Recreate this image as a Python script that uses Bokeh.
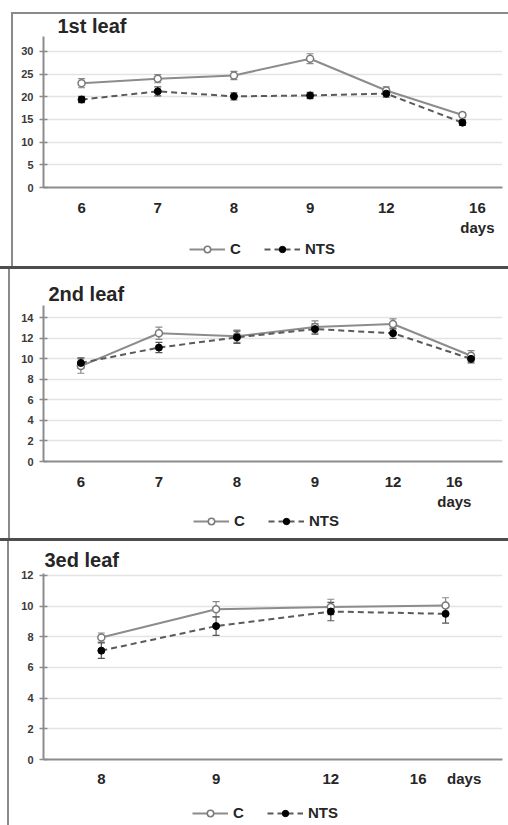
from bokeh.plotting import figure
from bokeh.layouts import column
from bokeh.models import (ColumnDataSource, Whisker, TeeHead, Legend, LegendItem,
                          FixedTicker, Range1d)
from bokeh.embed import file_html
from bokeh.resources import INLINE

FONT = "Liberation Sans"
TXT = "#262626"
GRAY = "#8c8c8c"
DASH_COL = "#5a5a5a"

# ---------------- data ----------------
leaf1_title = "1st leaf"
leaf1_days = ["6", "7", "8", "9", "12", "16"]
leaf1_c = [23.0, 24.0, 24.7, 28.4, 21.4, 16.0]
leaf1_c_err = [1.0, 0.9, 0.9, 1.1, 0.8, 0.5]
leaf1_nts = [19.4, 21.2, 20.1, 20.3, 20.7, 14.3]
leaf1_nts_err = [0.7, 1.0, 0.8, 0.7, 0.8, 0.6]
leaf1_yticks = [0, 5, 10, 15, 20, 25, 30]

leaf2_title = "2nd leaf"
leaf2_days = ["6", "7", "8", "9", "12", "16"]
leaf2_c = [9.3, 12.5, 12.2, 13.1, 13.4, 10.3]
leaf2_c_err = [0.7, 0.6, 0.6, 0.6, 0.5, 0.5]
leaf2_nts = [9.6, 11.1, 12.1, 12.9, 12.5, 10.0]
leaf2_nts_err = [0.5, 0.5, 0.6, 0.5, 0.5, 0.4]
leaf2_yticks = [0, 2, 4, 6, 8, 10, 12, 14]

leaf3_title = "3ed leaf"
leaf3_days = ["8", "9", "12", "16"]
leaf3_c = [7.95, 9.8, 9.95, 10.05]
leaf3_c_err = [0.3, 0.5, 0.5, 0.5]
leaf3_nts = [7.1, 8.7, 9.65, 9.5]
leaf3_nts_err = [0.5, 0.6, 0.6, 0.6]
leaf3_yticks = [0, 2, 4, 6, 8, 10, 12]

series_names = ["C", "NTS"]
unit_label = "days"


def lines_bg(specs):
    imgs, sizes, poss = [], [], []
    for color, x, y, w, h in specs:
        imgs.append(f"linear-gradient({color},{color})")
        sizes.append(f"{w}px {h}px")
        poss.append(f"{x}px {y}px")
    return {"background-image": ", ".join(imgs),
            "background-size": ", ".join(sizes),
            "background-position": ", ".join(poss),
            "background-repeat": "no-repeat"}


def style_c_line(fig, **kw):
    return fig.line(line_color=GRAY, line_width=2, **kw)


def style_n_line(fig, **kw):
    return fig.line(line_color=DASH_COL, line_width=2, line_dash="6 4", **kw)


def style_c_pts(fig, **kw):
    return fig.scatter(marker="circle", size=7, fill_color="white",
                       line_color="#7a7a7a", line_width=1.5, **kw)


def style_n_pts(fig, **kw):
    return fig.scatter(marker="circle", size=7, fill_color="black",
                       line_color="black", **kw)


def make_panel(title, days, c, c_err, nts, nts_err, yticks, cfg):
    n = len(days)
    xs = list(range(n))
    p = figure(width=508, height=cfg["h"], output_backend="svg",
               toolbar_location=None,
               x_range=Range1d(*cfg["xr"]), y_range=Range1d(0, cfg["ytop"]),
               min_border_left=cfg["bl"], min_border_right=cfg["br"],
               min_border_top=cfg["bt"], min_border_bottom=cfg["bb"],
               styles=lines_bg(cfg["box"]))
    p.outline_line_color = None
    p.background_fill_color = "white"
    p.border_fill_alpha = 0

    p.title.text = title
    p.title.align = "left"
    p.title.offset = cfg["toff"]
    p.title.standoff = cfg["tstand"]
    p.title.text_font = FONT
    p.title.text_font_style = "bold"
    p.title.text_font_size = "20px"
    p.title.text_color = TXT

    p.xgrid.grid_line_color = None
    p.ygrid.ticker = FixedTicker(ticks=yticks)
    p.ygrid.grid_line_color = "#e4e4e4"
    p.ygrid.grid_line_width = 1.5

    ya = p.yaxis[0]
    ya.ticker = FixedTicker(ticks=yticks)
    ya.axis_line_color = GRAY
    ya.axis_line_width = 2
    ya.major_tick_in = 4
    ya.major_tick_out = 4
    ya.major_tick_line_color = GRAY
    ya.major_tick_line_width = 1.5
    ya.minor_tick_line_color = None
    ya.major_label_standoff = 6
    ya.major_label_text_font = FONT
    ya.major_label_text_font_style = "bold"
    ya.major_label_text_font_size = "11px"
    ya.major_label_text_color = "#3a3a3a"

    # x axis: day labels; the last day label sits a little off its point
    xa = p.xaxis[0]
    last_pos = xs[-1] + cfg["last_off"]
    ticks = xs[:-1] + [last_pos]
    over = {float(i): d for i, d in zip(xs[:-1], days[:-1])}
    if cfg["unit_off"] is None:
        over[float(last_pos)] = days[-1] + "\n" + unit_label
    else:
        unit_pos = xs[-1] + cfg["unit_off"]
        ticks.append(unit_pos)
        over[float(last_pos)] = days[-1]
        over[float(unit_pos)] = unit_label
    xa.ticker = FixedTicker(ticks=[float(t) for t in ticks])
    xa.major_label_overrides = over
    xa.axis_line_color = GRAY
    xa.axis_line_width = 2
    xa.major_tick_line_color = None
    xa.minor_tick_line_color = None
    xa.major_tick_in = 0
    xa.major_tick_out = 0
    xa.major_label_standoff = cfg["xstand"]
    xa.major_label_text_font = FONT
    xa.major_label_text_font_style = "bold"
    xa.major_label_text_font_size = "15px"
    xa.major_label_text_color = TXT

    src_c = ColumnDataSource(dict(x=xs, y=c, lo=[v - e for v, e in zip(c, c_err)],
                                  up=[v + e for v, e in zip(c, c_err)]))
    src_n = ColumnDataSource(dict(x=xs, y=nts, lo=[v - e for v, e in zip(nts, nts_err)],
                                  up=[v + e for v, e in zip(nts, nts_err)]))

    style_c_line(p, x="x", y="y", source=src_c)
    style_n_line(p, x="x", y="y", source=src_n)
    for src, col in ((src_c, "#8a8a8a"), (src_n, "#555555")):
        w = Whisker(source=src, base="x", upper="up", lower="lo",
                    line_color=col, line_width=1.2,
                    upper_head=TeeHead(size=7, line_color=col, line_width=1.2),
                    lower_head=TeeHead(size=7, line_color=col, line_width=1.2))
        p.add_layout(w)
    style_c_pts(p, x="x", y="y", source=src_c)
    style_n_pts(p, x="x", y="y", source=src_n)

    # legend strip underneath the chart; its series renderers share the chart's
    # data but lie outside this strip's (empty) view, so only the legend shows
    lf = figure(width=508, height=cfg["lh"], output_backend="svg",
                toolbar_location=None, x_range=Range1d(-1, 0),
                y_range=Range1d(-2, -1),
                x_axis_type=None, y_axis_type=None, min_border=0,
                styles=lines_bg(cfg["lbox"]))
    lf.outline_line_color = None
    lf.background_fill_alpha = 0
    lf.border_fill_alpha = 0
    lc = style_c_line(lf, x="x", y="y", source=src_c)
    lcp = style_c_pts(lf, x="x", y="y", source=src_c)
    ln = style_n_line(lf, x="x", y="y", source=src_n)
    lnp = style_n_pts(lf, x="x", y="y", source=src_n)
    legend = Legend(items=[LegendItem(label=series_names[0], renderers=[lc, lcp]),
                           LegendItem(label=series_names[1], renderers=[ln, lnp])],
                    orientation="horizontal", location=cfg["leg"],
                    padding=0, margin=0, spacing=14, glyph_width=36,
                    glyph_height=16, label_height=16, label_standoff=5,
                    border_line_alpha=0, background_fill_alpha=0,
                    label_text_font=FONT, label_text_font_style="bold",
                    label_text_font_size="15px", label_text_color=TXT)
    lf.add_layout(legend)
    return [p, lf]


cfg1 = dict(h=238, xr=(-0.5, 5.526), ytop=33.3, bl=43, br=6, bt=36, bb=50,
            xstand=11, toff=14, tstand=0, last_off=0.197, unit_off=None,
            box=[("#8a8a8a", 11, 12, 2, 226), ("#8a8a8a", 11, 12, 497, 2)],
            lh=31, leg=(146, 12),
            lbox=[("#8a8a8a", 11, 0, 2, 28), ("#4d4d4d", 0, 28, 508, 3)])
cfg2 = dict(h=243, xr=(-0.479, 5.403), ytop=15.2, bl=40, br=1, bt=36, bb=49,
            xstand=11, toff=5, tstand=2, last_off=-0.214, unit_off=None,
            box=[("#8a8a8a", 8, 0, 2, 243)],
            lh=29, leg=(150, 12),
            lbox=[("#8a8a8a", 8, 0, 2, 26), ("#4d4d4d", 0, 26, 508, 3)])
cfg3 = dict(h=254, xr=(-0.504, 3.496), ytop=12.13, bl=39, br=1, bt=32, bb=36,
            xstand=10, toff=1, tstand=5, last_off=-0.239, unit_off=0.162,
            box=[("#8a8a8a", 7, 0, 2, 254)],
            lh=30, leg=(149, 4),
            lbox=[("#8a8a8a", 7, 0, 2, 30)])

figs = []
figs += make_panel(leaf1_title, leaf1_days, leaf1_c, leaf1_c_err, leaf1_nts,
                   leaf1_nts_err, leaf1_yticks, cfg1)
figs += make_panel(leaf2_title, leaf2_days, leaf2_c, leaf2_c_err, leaf2_nts,
                   leaf2_nts_err, leaf2_yticks, cfg2)
figs += make_panel(leaf3_title, leaf3_days, leaf3_c, leaf3_c_err, leaf3_nts,
                   leaf3_nts_err, leaf3_yticks, cfg3)

layout = column(*figs, spacing=0)
open("out.html", "w").write(file_html(layout, INLINE))
